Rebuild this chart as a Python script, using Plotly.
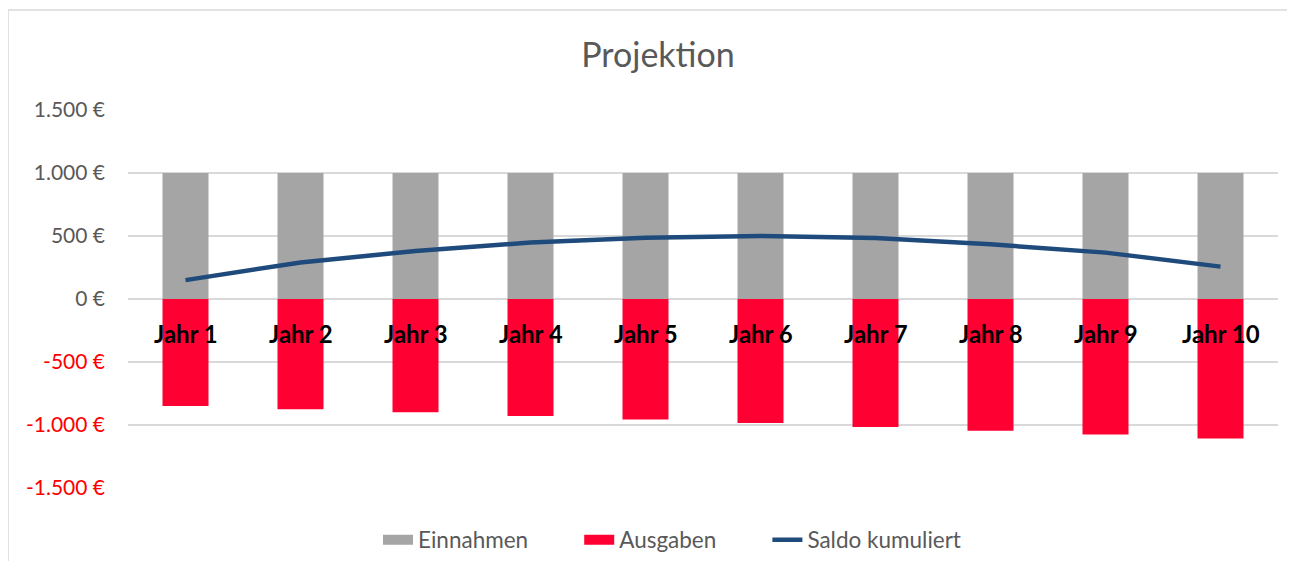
import plotly.graph_objects as go

categories = ["Jahr 1", "Jahr 2", "Jahr 3", "Jahr 4", "Jahr 5",
              "Jahr 6", "Jahr 7", "Jahr 8", "Jahr 9", "Jahr 10"]
einnahmen = [1000, 1000, 1000, 1000, 1000, 1000, 1000, 1000, 1000, 1000]
ausgaben = [-849, -875, -899, -928, -957, -984, -1016, -1045, -1076, -1108]
saldo_kumuliert = [150, 290, 381, 448, 487, 500, 484, 434, 368, 257]

tick_values = [-1500, -1000, -500, 0, 500, 1000, 1500]
tick_labels = ["-1.500 €", "-1.000 €", "-500 €", "0 €", "500 €", "1.000 €", "1.500 €"]

FONT = "Lato"
GREY_TXT = "#595959"
C_EIN = "#A5A5A5"
C_AUS = "#FF0033"
C_SALDO = "#1F4A7C"

ticktext = [
    f"<span style='color:#FF0000'>{t}</span>" if v < 0 else t
    for v, t in zip(tick_values, tick_labels)
]

# figure is placed at (8, 8) by the page's body margin; keep it inside the window
W, H = 1279, 553
L, R, T, B = 120, 9, 102, 73
PW, PH = W - L - R, H - T - B
PAD = "\u00a0" * 8  # extra spacing between legend entries

fig = go.Figure()
fig.add_trace(go.Bar(x=categories, y=einnahmen, name="Einnahmen", legendgroup="ein",
                     showlegend=False,
                     marker=dict(color=C_EIN, line=dict(width=0)), width=0.4))
fig.add_trace(go.Bar(x=categories, y=ausgaben, name="Ausgaben", legendgroup="aus",
                     showlegend=False,
                     marker=dict(color=C_AUS, line=dict(width=0)), width=0.4))
fig.add_trace(go.Scatter(x=categories, y=saldo_kumuliert, name="Saldo kumuliert",
                         mode="lines", showlegend=False, legendgroup="saldo",
                         line=dict(color=C_SALDO, width=4.5)))

# legend entries (wide swatches like Excel)
fig.add_trace(go.Scatter(x=[None], y=[None], mode="lines", name="Einnahmen" + PAD,
                         legendgroup="ein", line=dict(color=C_EIN, width=16)))
fig.add_trace(go.Scatter(x=[None], y=[None], mode="lines", name="Ausgaben" + PAD,
                         legendgroup="aus", line=dict(color=C_AUS, width=16)))
fig.add_trace(go.Scatter(x=[None], y=[None], mode="lines", name="Saldo kumuliert",
                         legendgroup="saldo", line=dict(color=C_SALDO, width=4.5)))

for c in categories:
    fig.add_annotation(x=c, y=0, xref="x", yref="y", text=f"<b>{c}</b>",
                       showarrow=False, yanchor="middle", yshift=-34,
                       font=dict(family=FONT, size=24, color="#000000"))

# chart area border (Excel style)
fig.add_shape(type="rect", xref="paper", yref="paper",
              x0=(0 - L) / PW, x1=(W + 20 - L) / PW,
              y0=(PH - (H + 20 - T)) / PH, y1=(PH - (2 - T)) / PH,
              line=dict(color="#D9D9D9", width=1.5), fillcolor="rgba(0,0,0,0)",
              layer="below")

fig.update_layout(
    width=W, height=H,
    margin=dict(l=L, r=R, t=T, b=B, autoexpand=False),
    barmode="relative",
    bargap=0.6,
    paper_bgcolor="white", plot_bgcolor="white",
    font=dict(family=FONT, color=GREY_TXT),
    title=dict(text="Projektion", x=650 / W, xanchor="center", xref="container",
               y=1 - 47 / H, yanchor="middle", yref="container",
               font=dict(family=FONT, size=34, color=GREY_TXT)),
    showlegend=True,
    legend=dict(orientation="h", xref="container", x=370 / W, xanchor="left",
                yref="container", y=1 - 532 / H, yanchor="middle",
                font=dict(family=FONT, size=22.5, color=GREY_TXT),
                traceorder="normal", bgcolor="rgba(0,0,0,0)"),
    xaxis=dict(showticklabels=False, showgrid=False, showline=False, ticks="",
               range=[-0.5, 9.5], fixedrange=True),
    yaxis=dict(range=[-1500, 1500], tickvals=tick_values, ticktext=ticktext,
               tickfont=dict(family=FONT, size=21, color=GREY_TXT),
               showgrid=True, gridcolor="#D9D9D9", gridwidth=1.5,
               zeroline=True, zerolinecolor="#D9D9D9", zerolinewidth=1.5,
               showline=False, ticks="", ticklabelstandoff=22),
)

fig.write_html("out.html")
